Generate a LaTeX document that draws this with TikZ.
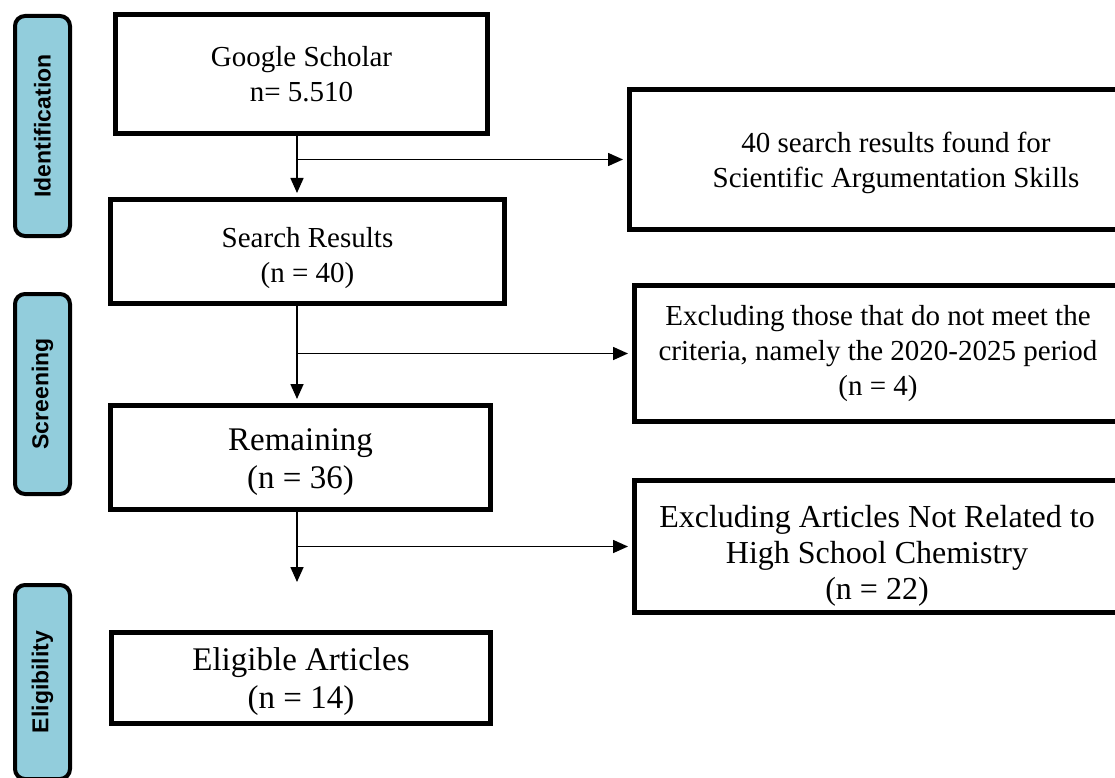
\documentclass[tikz,border=0pt]{standalone}
\usepackage{fontspec}
\setmainfont{Liberation Serif}
\newfontfamily\phasefont{Liberation Sans}
\usetikzlibrary{positioning, arrows.meta}
\definecolor{phaseblue}{RGB}{146,205,220}

\begin{document}
\begin{tikzpicture}[
        x=1pt, y=-1pt,
        line/.style={-{Triangle[length=15pt, width=13pt]}, line width=1.6pt},
        box/.style={draw, line width=5pt, align=center, anchor=north west, inner sep=0pt},
        small/.style={font=\fontsize{29}{35}\selectfont},
        large/.style={font=\fontsize{33}{38}\selectfont},
        phase/.style={draw, line width=4pt, rounded corners=10pt, fill=phaseblue, rotate=90,
                      minimum height=55pt, inner sep=0pt,
                      font=\phasefont\bfseries\fontsize{23}{27}\selectfont}
    ]

    \useasboundingbox (0,0) rectangle (1115,778);

    % phases
    \node[phase, minimum width=220pt] (ident) at (42.5,126) {Identification};
    \node[phase, minimum width=200pt] (screen) at (42.5,394) {Screening};
    \node[phase, minimum width=194pt] (elig) at (42.5,682) {Eligibility};

    % main column (first-line struts push the text down, as in the reference)
    \node[box, small, minimum width=372pt, minimum height=119pt] (gs) at (113,12) {Google Scholar\\ n= 5.510};
    \node[box, small, minimum width=394pt, minimum height=104pt, below=61pt of gs.south west,
          anchor=north west, xshift=-5pt] (sr) {\rule{0pt}{34pt}Search Results\\ (n = 40)};
    \node[box, large, minimum width=380pt, minimum height=104pt, below=97pt of sr.south west,
          anchor=north west] (rem) {\rule{0pt}{32pt}Remaining\\ (n = 36)};
    \node[box, large, minimum width=379pt, minimum height=91pt, below=118pt of rem.south west,
          anchor=north west, xshift=1pt] (eligart) {\rule{0pt}{30pt}Eligible Articles\\ (n = 14)};

    % excluded
    \node[box, small, minimum width=533pt, minimum height=140pt] (ex1) at (627,87)
        {\rule{0pt}{28pt}40 search results found for\\ Scientific Argumentation Skills};
    \node[box, small, minimum width=487pt, minimum height=136pt, below=51pt of ex1.south west,
          anchor=north west, xshift=5pt] (ex2)
        {Excluding those that do not meet the\\ criteria, namely the 2020-2025 period\\ (n = 4)};
    \node[box, font=\fontsize{32}{36}\selectfont, minimum width=485pt, minimum height=132pt,
          below=54pt of ex2.south west, anchor=north west] (ex3)
        {\rule{0pt}{40pt}Excluding Articles Not Related to\\ High School Chemistry\\ (n = 22)};

    \coordinate (spine) at (297,0);
    \coordinate (cut) at (297,582);

    \draw[line, shorten >=4pt] (gs.south -| spine) -- (sr.north -| spine);
    \draw[line, shorten >=4pt] (sr.south -| spine) -- (rem.north -| spine);
    \draw[line] (rem.south -| spine) -- (cut);
    \draw[line, shorten >=4pt] (spine |- ex1.west) -- (ex1.west);
    \draw[line, shorten >=4pt] (spine |- ex2.west) -- (ex2.west);
    \draw[line, shorten >=4pt] (spine |- ex3.west) -- (ex3.west);

\end{tikzpicture}
\end{document}
